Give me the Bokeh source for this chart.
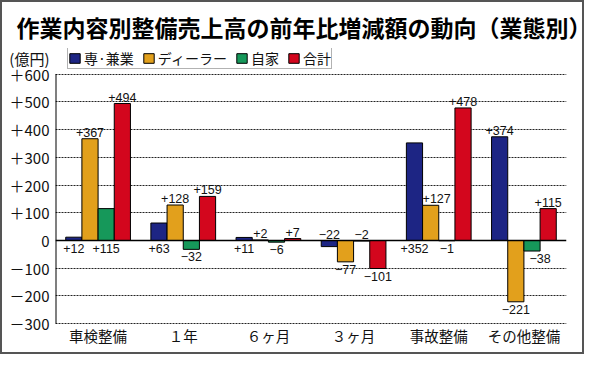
from bokeh.plotting import figure
from bokeh.layouts import column
from bokeh.models import (Range1d, FactorRange, ColumnDataSource, FixedTicker,
                          Span, Legend, LegendItem, Title)
from bokeh.transform import dodge
from bokeh.core.properties import value
from bokeh.embed import file_html
from bokeh.resources import INLINE

title_text = "作業内容別整備売上高の前年比増減額の動向（業態別）"
unit_text = "(億円)"
categories = ["車検整備", "１年", "６ヶ月", "３ヶ月", "事故整備", "その他整備"]
series_names = ["専·兼業", "ディーラー", "自家", "合計"]
sen_ken = [12, 63, 11, -22, 352, 374]
dealer = [367, 128, 2, -77, 127, -221]
jika = [115, -32, -6, -2, -1, -38]
total = [494, 159, 7, -101, 478, 115]
y_ticks = [-300, -200, -100, 0, 100, 200, 300, 400, 500, 600]
y_tick_labels = ["－300", "－200", "－100", "0", "＋100", "＋200", "＋300", "＋400", "＋500", "＋600"]

# label placement (a = above bar / axis, b = below)
sen_ken_side = ["b", "b", "b", "a", "b", "a"]
dealer_side = ["a", "a", "a", "b", "a", "b"]
jika_side = ["b", "b", "b", "a", "b", "b"]
total_side = ["a", "a", "a", "b", "a", "a"]
# small sideways nudges of a few labels (pixels)
label_nudge = {(1, "事故整備"): 6, (2, "その他整備"): 8}

series = [sen_ken, dealer, jika, total]
sides = [sen_ken_side, dealer_side, jika_side, total_side]
colors = ["#1d2584", "#e2a01c", "#16985a", "#d3061d"]
offsets = [-0.285, -0.095, 0.095, 0.285]
bar_w = 0.19

W, H = 580, 350
ML, MR, MT = 53, 16, 44
UNIT_POS = 658  # position of the unit caption on the value scale

p = figure(width=W, height=H, x_range=FactorRange(factors=categories, range_padding=0),
           y_range=Range1d(-403.9, 692.4), output_backend="svg", toolbar_location=None,
           min_border_left=ML, min_border_right=MR, min_border_top=MT, min_border_bottom=0)
p.outline_line_color = None
p.background_fill_color = "white"
p.border_fill_color = "white"

p.title = Title(text=title_text, align="left", offset=14 - ML, standoff=10,
                text_font="Noto Sans CJK JP", text_font_style="bold",
                text_font_size="23px", text_color="black")

# grid
p.xgrid.visible = False
p.ygrid.ticker = FixedTicker(ticks=[t for t in y_ticks if t != 0])
p.ygrid.grid_line_color = "#222"
p.ygrid.grid_line_dash = "2 1"
p.ygrid.grid_line_width = 1.2

# axes
p.yaxis.ticker = FixedTicker(ticks=y_ticks + [UNIT_POS])
overrides = {t: s for t, s in zip(y_ticks, y_tick_labels)}
overrides[UNIT_POS] = unit_text
p.yaxis.major_label_overrides = overrides
p.yaxis.axis_line_color = None
p.yaxis.major_tick_out = 0
p.yaxis.major_tick_in = 0
p.yaxis.minor_tick_line_color = None
p.yaxis.major_label_standoff = 6
p.yaxis.major_label_text_font = "Noto Sans CJK JP"
p.yaxis.major_label_text_font_size = "15px"
p.yaxis.major_label_text_color = "#111"

p.xaxis.fixed_location = min(y_ticks)
p.xaxis.axis_line_color = None
p.xaxis.major_tick_line_color = None
p.xaxis.major_tick_out = 0
p.xaxis.major_tick_in = 0
p.xaxis.major_label_standoff = 1
p.xaxis.major_label_text_font = "Noto Sans CJK JP"
p.xaxis.major_label_text_font_size = "14.5px"
p.xaxis.major_label_text_color = "#111"

# value axis line, from the lowest to the highest tick
p.segment(x0=[0], y0=[min(y_ticks)], x1=[0], y1=[max(y_ticks)], line_color="black", line_width=2)

data = {"cat": categories}
for i, s in enumerate(series):
    data[f"s{i}"] = s
src = ColumnDataSource(data)

renderers = []
for i in range(4):
    r = p.vbar(x=dodge("cat", offsets[i], range=p.x_range), top=f"s{i}", bottom=0,
               width=bar_w, source=src, fill_color=colors[i], line_color="black", line_width=1)
    renderers.append(r)

p.add_layout(Span(location=0, dimension="width", line_color="black", line_width=1.5))

# value labels
def fmt(v):
    return f"+{v}" if v > 0 else f"−{abs(v)}"

for side, base, yoff in (("a", "bottom", -2), ("b", "top", 3)):
    for i in range(4):
        cats, ys, ts, dx = [], [], [], []
        for c, v, sd in zip(categories, series[i], sides[i]):
            if sd != side:
                continue
            cats.append(c)
            ys.append(max(v, 0) if side == "a" else min(v, 0))
            ts.append(fmt(v))
            dx.append(label_nudge.get((i, c), 0))
        if not cats:
            continue
        lsrc = ColumnDataSource({"cat": cats, "y": ys, "t": ts, "dx": dx})
        p.text(x=dodge("cat", offsets[i], range=p.x_range), y="y", text="t", source=lsrc,
               x_offset="dx", text_align="center", text_baseline=base, y_offset=yoff,
               text_font=value("Liberation Sans"), text_font_size="12.5px",
               text_color="#111")

legend = Legend(items=[LegendItem(label=n, renderers=[r]) for n, r in zip(series_names, renderers)],
                orientation="horizontal", location=(12, 283),
                border_line_color="#666", border_line_width=1, background_fill_alpha=1,
                padding=0, spacing=8, label_standoff=3, glyph_width=13, glyph_height=12,
                label_height=14, margin=0,
                label_text_font="Noto Sans CJK JP", label_text_font_size="14px",
                label_text_color="#111")
p.add_layout(legend)

root = column(p, styles={"border": "2px solid #555"})
open("out.html", "w").write(file_html(root, INLINE))
